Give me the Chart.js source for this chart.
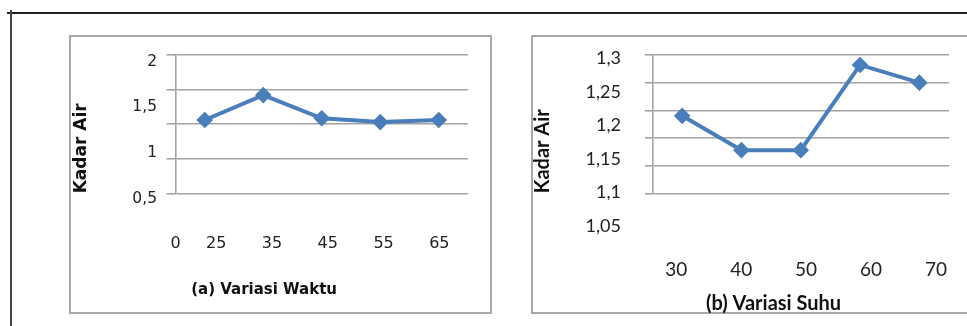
<!DOCTYPE html>
<html><head><meta charset="utf-8">
<script src="https://cdn.jsdelivr.net/npm/chart.js@4.4.1/dist/chart.umd.min.js"></script>
<style>
html,body{margin:0;padding:0;background:#fff;width:967px;height:326px;overflow:hidden;position:relative}
.frame{position:absolute;border:2px solid #a8a8a8;box-sizing:border-box;background:#fff}
.box{position:absolute;top:0;height:326px}
</style></head><body>
<div style="position:absolute;left:7px;top:12px;width:960px;height:0;border-top:2px solid #222"></div>
<div style="position:absolute;left:10px;top:10px;width:0;height:316px;border-left:2px solid #444"></div>
<div class="frame" style="left:69px;top:35px;width:423px;height:279px"></div>
<div class="frame" style="left:531px;top:35px;width:440px;height:279px"></div>
<div class="box" style="left:0;width:500px"><canvas id="c1"></canvas></div>
<div class="box" style="left:500px;width:467px"><canvas id="c2"></canvas></div>
<script>
// ---- data: (a) Variasi Waktu ----
const waktuCategories = ['25', '35', '45', '55', '65'];
const waktuValues = [1.06, 1.42, 1.085, 1.03, 1.06];
const waktuYTickLabels = ['2', '1,5', '1', '0,5'];
const waktuXTickLabels = ['0', '25', '35', '45', '55', '65'];

// ---- data: (b) Variasi Suhu ----
const suhuCategories = ['30', '40', '50', '60', '70'];
const suhuValues = [1.19, 1.128, 1.128, 1.282, 1.25];
const suhuYTickLabels = ['1,3', '1,25', '1,2', '1,15', '1,1', '1,05'];
const suhuXTickLabels = ['30', '40', '50', '60', '70'];

const LINE = '#4a7ebb';
const GRID = '#a3a3a3';
const TXT = '#222';
const num = s => parseFloat(s.replace(',', '.'));

function makeChart(id, cfg) {
  return new Chart(document.getElementById(id), {
    type: 'line',
    data: {
      labels: cfg.categories,
      datasets: [{
        data: cfg.values,
        xAxisID: 'x', yAxisID: 'y',
        borderColor: LINE, backgroundColor: LINE, borderWidth: 4,
        pointStyle: 'rectRot', pointRadius: 5.5, pointBorderColor: LINE,
        pointBackgroundColor: LINE, tension: 0, clip: false
      }]
    },
    options: {
      animation: false, responsive: true, maintainAspectRatio: false,
      layout: { padding: cfg.padding },
      plugins: { legend: { display: false }, tooltip: { enabled: false } },
      scales: {
        x: { type: 'category', display: false, offset: true },
        y: {
          type: 'linear', position: 'left', weight: 0,
          min: cfg.gridMin, max: cfg.gridMax,
          ticks: { display: false, stepSize: cfg.gridStep },
          grid: { color: GRID, lineWidth: 1.6, drawTicks: true, tickLength: cfg.gridTick },
          border: { display: true, color: GRID, width: 1.6 },
          afterFit: a => { a.width = cfg.gridTick; }
        },
        y2: {
          type: 'linear', position: 'left', weight: 1,
          min: cfg.labelMin, max: cfg.labelMax,
          grid: { display: false, drawTicks: true, tickLength: cfg.yLabelGap },
          border: { display: false },
          afterBuildTicks: a => { a.ticks = cfg.yLabels.map(l => ({ value: num(l) })); },
          ticks: { autoSkip: false, padding: 0, color: TXT, font: cfg.yFont,
                   callback: (v, i) => cfg.yLabels[i] },
          title: { display: true, text: 'Kadar Air', align: 'start', color: '#111',
                   font: cfg.yTitleFont, padding: { top: cfg.yTitlePad, bottom: 0 } },
          afterFit: a => { a.width = cfg.yWidth; }
        },
        x2: {
          type: 'linear', position: 'bottom', axis: 'x',
          min: cfg.xLabelMin, max: cfg.xLabelMax,
          grid: { display: false, drawTicks: true, tickLength: cfg.xLabelGap },
          border: { display: false },
          afterBuildTicks: a => {
            a.ticks = cfg.xLabels.map(l => ({ value: Math.min(Math.max(num(l), a.min), a.max) }));
          },
          ticks: { autoSkip: false, padding: 0, maxRotation: 0, minRotation: 0, color: TXT,
                   font: cfg.xFont, callback: (v, i) => cfg.xLabels[i] },
          title: { display: true, text: cfg.title, align: 'start', color: '#111',
                   font: cfg.xTitleFont, padding: { top: 0, bottom: 0 } },
          afterFit: a => { a.height = cfg.xHeight; }
        }
      }
    }
  });
}

makeChart('c1', {
  categories: waktuCategories, values: waktuValues,
  yLabels: waktuYTickLabels, xLabels: waktuXTickLabels,
  title: '   (a) Variasi Waktu',
  padding: { left: 50, top: 55, right: 32, bottom: 27 },
  gridMin: 0, gridMax: 2, gridStep: 0.5, gridTick: 9,
  labelMin: 0.5622, labelMax: 2.0732, yLabelGap: 9.5, yWidth: 116.5,
  yFont: { family: 'DejaVu Sans', size: 15.5 },
  yTitleFont: { family: 'DejaVu Sans', size: 17, weight: 'bold' }, yTitlePad: 21.5,
  xLabelMin: 17.71, xLabelMax: 70.13, xLabelGap: 41, xHeight: 105.7,
  xFont: { family: 'DejaVu Sans', size: 16 },
  xTitleFont: { family: 'DejaVu Sans', size: 15, weight: 'bold' }
});

makeChart('c2', {
  categories: suhuCategories, values: suhuValues,
  yLabels: suhuYTickLabels, xLabels: suhuXTickLabels,
  title: '           (b) Variasi Suhu',
  padding: { left: 20, top: 55, right: 18, bottom: 10 },
  gridMin: 1.05, gridMax: 1.3, gridStep: 0.05, gridTick: 7.5,
  labelMin: 1.0987, labelMax: 1.3049, yLabelGap: 24, yWidth: 125,
  yFont: { family: 'Lato', size: 18 },
  yTitleFont: { family: 'Lato', size: 20, weight: 'bold' }, yTitlePad: 10.5,
  xLabelMin: 26.344, xLabelMax: 72.005, xLabelGap: 65.3, xHeight: 122.7,
  xFont: { family: 'Lato', size: 19 },
  xTitleFont: { family: 'Lato', size: 20, weight: 'bold' }
});
</script>
</body></html>
